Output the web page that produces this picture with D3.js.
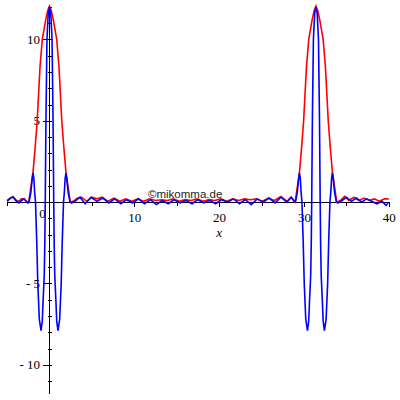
<!DOCTYPE html>
<html lang="en">
<head>
  <title>Plot</title>
  <meta http-equiv="content-type" content="text/html; charset=utf-8" />
<style>
body {
	margin:0px;
	background:#fff;
}
.axis path { display:none; }
.axis line { stroke:#000; shape-rendering: crispEdges; }
.axis text, .lbl {
	font-family: 'Liberation Serif', serif;
	font-size:13px;
	fill:#000;
}
#xlabel { font-style: italic; }
#mark {
	font-family: 'Liberation Sans', Arial, sans-serif;
	font-size:11.5px;
	fill:#222;
}
.curve { fill:none; stroke-width:1.6px; }
</style>
</head>
<body>
<svg width="400" height="400"></svg>

<script src="https://cdn.jsdelivr.net/npm/d3@7"></script>
<script>

// values
var redX = [-5.0,-4.6,-4.3,-3.9,-3.6,-3.3,-3.0,-2.7,-2.45,-2.2,-1.95,-1.7,-1.45,-1.12,-0.85,-0.45,-0.2,0,
	0.2,0.45,0.85,1.12,1.45,1.7,1.95,2.2,2.45,
	2.8,3.3,3.8,4.4,5.0,5.6,6.2,6.9,7.6,8.3,9.0,9.7,10.4,11.1,11.8,12.5,13.2,13.9,14.6,15.3,16.0,16.7,
	17.4,18.1,18.8,19.5,20.2,20.9,21.6,22.3,23.0,23.7,24.4,25.1,25.8,26.5,27.3,28.0,28.5,28.97,
	29.22,29.47,29.72,29.97,30.3,30.57,30.97,31.22,31.42,31.62,31.87,32.27,32.54,32.87,33.12,33.37,33.62,33.87,
	34.3,34.8,35.3,35.9,36.5,37.1,37.7,38.3,38.9,39.5,40.0];
var redY = [0.1,0.25,0.35,0.1,0.05,0.2,0.2,0.05,0.0,0.9,1.8,3.3,5.0,8.3,10.0,11.2,11.8,12.05,
	11.8,11.2,10.0,8.3,5.0,3.3,1.8,0.9,0.0,
	0.05,0.25,0.3,0.05,0.3,0.2,0.3,0.05,0.25,0.05,0.2,0.05,0.2,0.05,0.2,0.1,0.15,0.1,0.2,0.05,0.15,0.1,
	0.2,0.05,0.15,0.1,0.2,0.05,0.2,0.1,0.2,0.15,0.2,0.05,0.25,0.1,0.35,0.05,0.3,0.0,
	0.9,1.8,3.3,5.0,8.3,10.0,11.2,11.8,12.05,11.8,11.2,10.0,8.3,5.0,3.3,1.8,0.9,0.0,
	0.1,0.35,0.1,0.3,0.1,0.25,0.1,0.2,0.05,0.2,0.2];

var blueX = [-5.0,-4.6,-4.3,-3.9,-3.6,-3.3,-3.0,-2.75,-2.55,
	-2.4,-2.2,-2.05,-1.95,-1.85,-1.75,-1.65,-1.5,-1.38,-1.2,-1.0,-0.85,-0.75,-0.62,-0.55,-0.5,-0.42,-0.3,-0.15,0,
	0.15,0.3,0.42,0.5,0.55,0.62,0.75,0.85,1.0,1.2,1.38,1.5,1.65,1.75,1.85,1.95,2.05,2.2,2.4,
	2.6,3.0,3.6,4.2,4.9,5.6,6.3,7.0,7.7,8.4,9.1,9.8,10.5,11.2,11.9,12.6,13.3,14.0,14.7,15.4,16.1,16.8,
	17.5,18.2,18.9,19.6,20.3,21.0,21.7,22.4,23.1,23.8,24.5,25.2,25.9,26.6,27.3,28.0,28.5,28.85,
	29.02,29.22,29.37,29.47,29.57,29.67,29.77,29.92,30.04,30.22,30.42,30.57,30.67,30.80,30.87,30.92,31.00,31.12,31.27,31.42,
	31.57,31.72,31.84,31.92,31.97,32.04,32.17,32.27,32.42,32.62,32.80,32.92,33.07,33.17,33.27,33.37,33.47,33.62,33.82,
	34.0,34.5,35.0,35.6,36.2,36.8,37.4,38.0,38.6,39.2,39.7,40.0];
var blueY = [0.05,0.25,0.3,0.05,-0.05,0.1,0.2,0.05,-0.05,
	0.05,0.6,1.4,1.8,1.5,0.6,0.0,-2.5,-5.0,-7.2,-7.9,-7.3,-6.0,-4.5,-2.5,0,5,10,11.6,12,
	11.6,10,5,0,-2.5,-4.5,-6.0,-7.3,-7.9,-7.2,-5.0,-2.5,0.0,0.6,1.5,1.8,1.4,0.6,0.05,
	-0.05,0.05,0.3,-0.1,0.3,0.05,0.25,-0.05,0.2,-0.1,0.15,-0.05,0.2,-0.1,0.15,-0.15,0.1,-0.1,0.15,-0.05,0.1,-0.1,
	0.15,-0.05,0.1,-0.1,0.15,0.0,0.2,-0.1,0.15,-0.15,0.2,0.0,0.25,-0.05,0.3,0.0,0.3,0.05,
	0.05,0.6,1.4,1.8,1.5,0.6,0.0,-2.5,-5.0,-7.2,-7.9,-7.3,-6.0,-4.5,-2.5,0,5,10,11.6,12,
	11.6,10,5,0,-2.5,-4.5,-6.0,-7.3,-7.9,-7.2,-5.0,-2.5,0.0,0.6,1.5,1.8,1.4,0.6,0.05,
	-0.05,0.1,0.3,0.05,0.25,0.0,0.2,0.05,-0.1,0.05,-0.2,0.0];

var xMajor = [10, 20, 30, 40];
var xMinor = [-5, 5, 15, 25, 35];
var yMajor = [-10, -5, 5, 10];
var yMinor = [-11, -9, -8, -7, -6, -4, -3, -2, -1, 1, 2, 3, 4, 6, 7, 8, 9, 11, 12];

var svg = d3.select("svg");

var x = d3.scaleLinear().domain([-5, 40]).range([7.1, 388.7]);
var y = d3.scaleLinear().domain([-11.8, 12]).range([394.1, 6.9]);

var ox = Math.round(x(0)) + 0.5,
	oy = Math.round(y(0)) + 0.5;

// axis lines through the origin
svg.append("line")
	.attr("x1", x(-5)).attr("x2", x(40))
	.attr("y1", oy).attr("y2", oy)
	.attr("stroke", "#000").attr("shape-rendering", "crispEdges");
svg.append("line")
	.attr("x1", ox).attr("x2", ox)
	.attr("y1", y(12)).attr("y2", y(-11.8))
	.attr("stroke", "#000").attr("shape-rendering", "crispEdges");

// x ticks
svg.append("g").attr("class", "axis")
	.attr("transform", "translate(0," + (oy - 1) + ")")
	.call(d3.axisBottom(x).tickValues(xMinor).tickSizeInner(4).tickSizeOuter(0).tickFormat(""));
svg.append("g").attr("class", "axis")
	.attr("transform", "translate(0," + (oy - 1) + ")")
	.call(d3.axisBottom(x).tickValues(xMajor).tickSizeInner(5).tickSizeOuter(0).tickPadding(6));

// y ticks
function yfmt(d) { return d < 0 ? "- " + (-d) : "" + d; }
svg.append("g").attr("class", "axis")
	.attr("transform", "translate(" + (ox + 2.5) + ",0)")
	.call(d3.axisLeft(y).tickValues(yMinor).tickSizeInner(4.5).tickSizeOuter(0).tickFormat(""));
svg.append("g").attr("class", "axis")
	.attr("transform", "translate(" + (ox + 2.5) + ",0)")
	.call(d3.axisLeft(y).tickValues(yMajor).tickSizeInner(9).tickSizeOuter(0).tickPadding(3).tickFormat(yfmt));

svg.append("text").attr("class", "lbl")
	.attr("x", x(0) - 7).attr("y", oy + 15)
	.attr("text-anchor", "middle")
	.text("0");

svg.append("text").attr("class", "lbl").attr("id", "xlabel")
	.attr("x", x(20)).attr("y", oy + 34)
	.attr("text-anchor", "middle")
	.text("x");

svg.append("text").attr("id", "mark")
	.attr("x", 148).attr("y", 198)
	.text("\u00a9mikomma.de");

var line = d3.line()
	.x(function(d) { return x(d[0]); })
	.y(function(d) { return y(d[1]); });

svg.append("path").attr("class", "curve")
	.attr("stroke", "#ff0000")
	.attr("d", line(d3.zip(redX, redY)));

svg.append("path").attr("class", "curve")
	.attr("stroke", "#0000ff")
	.attr("d", line(d3.zip(blueX, blueY)));

</script>
</body>
</html>
